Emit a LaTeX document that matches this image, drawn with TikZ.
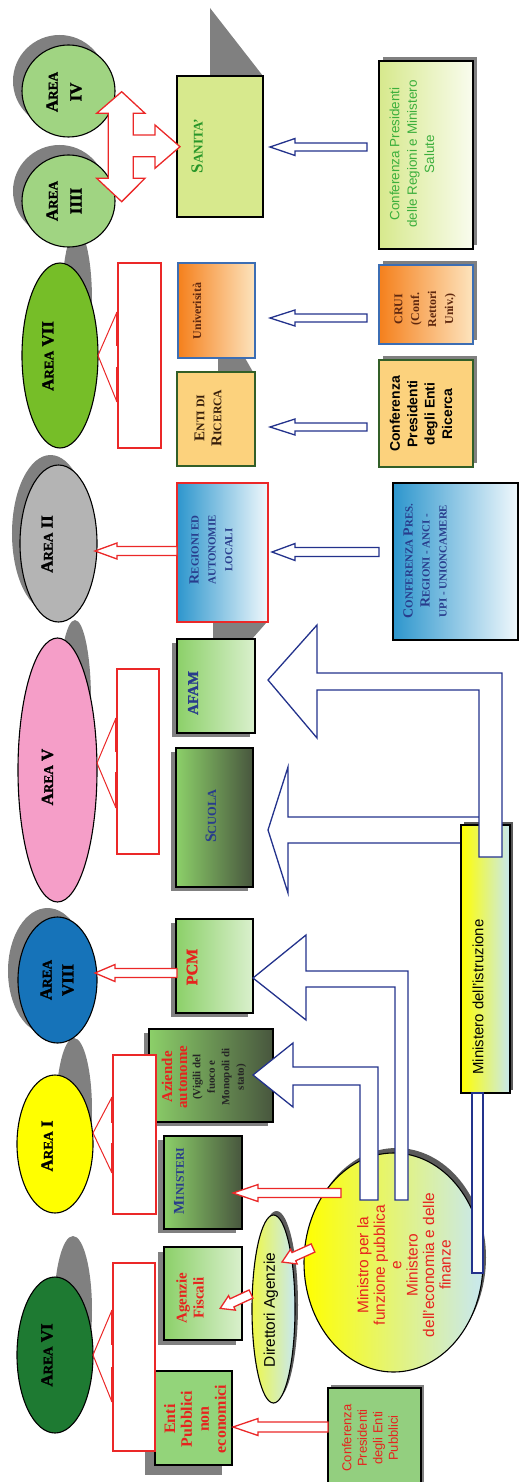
\documentclass[tikz,border=0pt]{standalone}
\usepackage{fontspec}
\usepackage{graphicx}
\setmainfont{Liberation Serif}
\setsansfont{Liberation Sans}
\newfontface\heavyserif[RawFeature={embolden=1.6}]{Liberation Serif Bold}
\usetikzlibrary{shapes.geometric}

\definecolor{shadowgray}{RGB}{128,128,128}
\definecolor{arrblue}{RGB}{35,50,140}
\definecolor{arrred}{RGB}{235,40,40}
\definecolor{circgreen}{RGB}{160,212,130}
\definecolor{sanitaC}{RGB}{215,233,141}
\definecolor{sevengreen}{RGB}{118,190,40}
\definecolor{orangeC}{RGB}{245,128,28}
\definecolor{orangeL}{RGB}{253,228,190}
\definecolor{univblue}{RGB}{60,110,180}
\definecolor{entiC}{RGB}{252,210,125}
\definecolor{darkgreen}{RGB}{50,95,40}
\definecolor{twogray}{RGB}{180,180,180}
\definecolor{blueC}{RGB}{45,150,205}
\definecolor{blueL}{RGB}{240,248,252}
\definecolor{pinkC}{RGB}{245,158,200}
\definecolor{boxG}{RGB}{140,208,105}
\definecolor{boxL}{RGB}{218,240,205}
\definecolor{boxD}{RGB}{72,86,62}
\definecolor{eightblue}{RGB}{22,115,185}
\definecolor{sixgreen}{RGB}{30,122,50}
\definecolor{entipubC}{RGB}{147,212,122}
\definecolor{confpubC}{RGB}{147,207,127}
\definecolor{ltblue}{RGB}{200,232,240}
\definecolor{yel}{RGB}{255,255,0}
\definecolor{dblue}{RGB}{40,60,140}
\definecolor{redtxt}{RGB}{230,35,30}
\definecolor{greentxt}{RGB}{60,175,60}
\definecolor{sangreen}{RGB}{40,150,40}
\definecolor{maroonT}{RGB}{95,40,15}
\definecolor{brownT}{RGB}{55,30,10}

\newcommand\sm[1]{\scalebox{0.78}{#1}}
\newcommand\AR{A\sm{REA}}
% name x1 y1 x2 y2 style shadowdx shadowdy
\newcommand\bx[8]{%
  \fill[shadowgray] ({#2+#7},{#3+#8}) rectangle ({#4+#7},{#5+#8});
  \node[draw=black, line width=1.1bp, inner sep=0pt, outer sep=0pt,
        minimum width={(#4-#2)*1bp}, minimum height={(#5-#3)*1bp}, #6]
        (#1) at ({(#2+#4)/2},{(#3+#5)/2}) {};}
% name cx cy rx ry style
\newcommand\el[6]{%
  \node[ellipse, draw=black, line width=1.1bp, inner sep=0pt, outer sep=0pt,
        minimum width={2*#4*1bp}, minimum height={2*#5*1bp}, #6] (#1) at (#2,#3) {};}
% tailx taily angle length shafthalf headhalf headlen style
\newcommand\barrow[8]{%
  \begin{scope}[shift={(#1,#2)}, rotate=#3]
  \draw[#8] (0,{-#5}) -- ({#4-#7},{-#5}) -- ({#4-#7},{-#6}) -- (#4,0)
     -- ({#4-#7},{#6}) -- ({#4-#7},{#5}) -- (0,{#5}) -- cycle;
  \end{scope}}

\begin{document}
\begin{tikzpicture}[x=1bp,y=-1bp,
  bluearr/.style={draw=arrblue, line width=1.3bp, fill=white, line join=miter},
  redarr/.style={draw=arrred, line width=1.3bp, fill=white, line join=miter},
  brk/.style={draw=arrred, line width=1.2bp},
  areatxt/.style={rotate=90, align=center, font=\heavyserif\fontsize{17}{24}\selectfont},
  rtxt/.style={rotate=90, align=center}]
\useasboundingbox (0,0) rectangle (519,1482);

% ---------- shadows ----------
\fill[shadowgray] (59.5,81) ellipse [x radius=46.5bp, y radius=46bp];
\fill[shadowgray] (59.5,191) ellipse [x radius=46.5bp, y radius=46bp];
\fill[shadowgray] (77,300) ellipse [x radius=15bp, y radius=70bp];
\fill[shadowgray] (50.5,533.5) ellipse [x radius=38.5bp, y radius=78.5bp];
\fill[shadowgray] (75,700) ellipse [x radius=16bp, y radius=80bp];
\fill[shadowgray] (47.5,971) ellipse [x radius=39.5bp, y radius=63bp];
\fill[shadowgray] (74,1110) ellipse [x radius=18bp, y radius=72bp];
\fill[shadowgray] (73,1310) ellipse [x radius=19bp, y radius=74bp];
\fill[shadowgray] (210,8) -- (210,76) -- (263,76) -- cycle;
\fill[shadowgray] (218,358) -- (245,358) -- (253,372) -- (218,372) -- cycle;
\fill[shadowgray] (213,622) -- (267,622) -- (252,639) -- (213,639) -- cycle;
\fill[shadowgray!70!black] (396.5,1257.5) ellipse [x radius=89.5bp, y radius=109.5bp];
\fill[shadowgray!70!black] (276.5,1305) ellipse [x radius=21.5bp, y radius=94bp];

% ---------- area ellipses ----------
\el{a4}{68.5}{91}{46.5}{46}{fill=circgreen}
\el{a3}{68.5}{201}{46.5}{46}{fill=circgreen}
\el{a7}{60}{355.5}{38}{92.5}{fill=sevengreen}
\el{a2}{58.5}{543.5}{38.5}{78.5}{fill=twogray}
\el{a5}{57.5}{770}{39.5}{132}{fill=pinkC}
\el{a8}{57.5}{980}{39.5}{63}{fill=eightblue}
\el{a1}{55}{1144}{38}{69}{fill=yel}
\el{a6}{55}{1355}{38}{78}{fill=sixgreen}
\el{ministro}{393.5}{1262.5}{89.5}{109.5}{left color=yel, right color=ltblue}
\el{direttori}{273.5}{1309}{21.5}{94}{left color=yel!70!ltblue, right color=ltblue}

% ---------- boxes ----------
\bx{sanita}{177}{76}{263}{217}{fill=sanitaC}{0}{0}
\bx{confsal}{379}{61}{473}{249}{left color=sanitaC, right color=sanitaC!15}{4}{-4}
\bx{univ}{178}{263}{255}{358}{draw=univblue, left color=orangeC, right color=orangeL}{0}{0}
\bx{crui}{379}{265}{473}{344}{draw=univblue, left color=orangeC, right color=orangeL}{4}{-4}
\bx{entiric}{177}{372}{255}{466}{draw=darkgreen, fill=entiC}{0}{0}
\bx{confric}{379}{360}{473}{467}{draw=darkgreen, fill=entiC}{4}{-4}
\bx{regioni}{177}{483}{268}{622}{draw=arrred, left color=blueC, right color=blueL}{0}{0}
\bx{confreg}{393}{483}{518}{640}{left color=blueC, right color=blueL}{0}{0}
\bx{afam}{177}{639}{255}{733}{left color=boxG, right color=boxL}{-5}{4}
\bx{scuola}{176}{748}{253}{887}{left color=boxG, right color=boxD}{-5}{4}
\bx{pcm}{176}{919}{253}{1013}{left color=boxG, right color=boxL}{-5}{4}
\bx{aziende}{149}{1029}{273}{1122}{left color=boxG, right color=boxD}{-5}{4}
\bx{ministeri}{164}{1136}{242}{1229}{left color=boxG, right color=boxD}{-6}{4}
\bx{agenzie}{164}{1247}{242}{1340}{left color=boxG, right color=boxL}{-6}{5}
\bx{entipub}{155}{1371}{232}{1465}{fill=entipubC}{-10}{10}
\bx{confpub}{328}{1388}{421}{1492}{fill=confpubC}{3}{-3}

% ---------- brackets ----------
\draw[brk, fill=white] (118,263) rectangle (161,448);
\draw[draw=arrred, line width=2.6bp] (117,312) -- (117,346) (117,367) -- (117,402);
\draw[draw=arrred, line width=1bp] (117,312) -- (a7.east) -- (117,402);
\draw[brk, fill=white] (117,669) rectangle (159,854);
\draw[draw=arrred, line width=2.6bp] (116,718) -- (116,752) (116,772) -- (116,808);
\draw[draw=arrred, line width=1bp] (116,718) -- (97,763) -- (116,808);
\draw[brk, fill=white] (113,1055) rectangle (156,1214);
\draw[draw=arrred, line width=2.6bp] (112,1097) -- (112,1123) (112,1143) -- (112,1173);
\draw[draw=arrred, line width=1bp] (112,1097) -- (93,1133) -- (112,1173);
\draw[brk, fill=white] (113,1263) rectangle (155,1451);
\draw[draw=arrred, line width=2.6bp] (112,1310) -- (112,1345) (112,1367) -- (112,1402);
\draw[draw=arrred, line width=1bp] (112,1310) -- (a6.east) -- (112,1402);

% ---------- big blue arrows ----------
\draw[bluearr] (268,830) -- (288,767) -- (288,817) -- (485,817) -- (485,843)
   -- (288,843) -- (288,893) -- cycle;
\fill[shadowgray!70!black] (464,822) rectangle (513,1090);
\bx{minist}{461}{825}{510}{1093}{left color=yel, right color=ltblue}{0}{0}
\draw[bluearr] (268,680) -- (317,625) -- (317,673) -- (502,673) -- (502,857)
   -- (479,857) -- (479,690) -- (317,690) -- (317,738) -- cycle;
\draw[bluearr] (253,978) -- (306,935) -- (306,971) -- (408,971) -- (408,1200)
   -- (395,1200) -- (395,987) -- (306,987) -- (306,1020) -- cycle;
\draw[bluearr] (253,1075) -- (293,1043) -- (293,1067) -- (378,1067) -- (378,1200)
   -- (360,1200) -- (360,1085) -- (293,1085) -- (293,1107) -- cycle;
\draw[bluearr] (472,1093) rectangle (483,1273);

% ---------- small blue arrows ----------
\barrow{367}{147}{180}{97}{4}{8.5}{25}{bluearr}
\barrow{367}{318}{180}{97}{4}{8}{25}{bluearr}
\barrow{367}{427}{180}{97}{4}{8}{25}{bluearr}
\barrow{379}{552}{180}{107}{4.5}{8.5}{23}{bluearr}

% ---------- red arrows ----------
\barrow{177}{551}{180}{82}{4.5}{8}{22}{redarr}
\barrow{177}{973}{180}{82}{4.5}{8.5}{20}{redarr}
\barrow{341}{1193}{180}{108}{4.5}{8.5}{25}{redarr}
\barrow{328}{1427}{180}{95}{5}{8.5}{25}{redarr}
\barrow{313}{1248}{204.3}{34}{4.5}{8}{13}{redarr}
\barrow{251}{1294}{205}{34}{4.5}{8}{13}{redarr}
\draw[redarr] (121.7,91.7) -- (145,113.3) -- (133.3,113.3) -- (133.3,135) -- (155,135)
   -- (155,125) -- (180,146.7) -- (155,168.3) -- (155,156.7) -- (133.3,156.7)
   -- (133.3,178.3) -- (145,178.3) -- (121.7,201.7) -- (96.7,178.3) -- (108.3,178.3)
   -- (108.3,113.3) -- (96.7,113.3) -- cycle;

% ---------- texts ----------
\node[areatxt] (a4-t) at (64,92) {\AR\\IV};
\node[areatxt] (a3-t) at (64,201) {\AR\\IIII};
\node[areatxt] (a7-t) at (48,356) {\AR\ VII};
\node[areatxt] (a2-t) at (47,544) {\AR\ II};
\node[areatxt] (a5-t) at (47.5,777) {\AR\ V};
\node[areatxt, font=\heavyserif\fontsize{17}{22}\selectfont] (a8-t) at (57,980) {\AR\\VIII};
\node[areatxt] (a1-t) at (47,1146) {\AR\ I};
\node[areatxt] (a6-t) at (47,1355) {\AR\ VI};

\node[rtxt, font=\bfseries\fontsize{17}{17}\selectfont, text=sangreen] (sanita-t) at (197,146) {S\sm{ANITA'}};
\node[rtxt, font=\sffamily\fontsize{13.5}{17.5}\selectfont, text=greentxt] (confsal-t) at (412,154)
  {Conferenza Presidenti\\delle Regioni e Ministero\\Salute};
\node[rtxt, font=\bfseries\fontsize{12}{14}\selectfont, text=maroonT] (univ-t) at (197,311) {Univerisità};
\node[rtxt, font=\bfseries\fontsize{12}{17}\selectfont, text=maroonT] (crui-t) at (425,309)
  {CRUI\\(Conf.\\Rettori\\Univ.)};
\node[rtxt, font=\bfseries\fontsize{15}{17}\selectfont, text=brownT] (entiric-t) at (208,418)
  {E\sm{NTI DI}\\R\sm{ICERCA}};
\node[rtxt, font=\sffamily\bfseries\fontsize{14}{17.5}\selectfont, text=black] (confric-t) at (421,414)
  {Conferenza\\Presidenti\\degli Enti\\Ricerca};
\node[rtxt, font=\bfseries\fontsize{14}{17}\selectfont, text=dblue] (regioni-t) at (211,550)
  {R\sm{EGIONI ED}\\\sm{AUTONOMIE}\\\sm{LOCALI}};
\node[rtxt, font=\bfseries\fontsize{14}{17}\selectfont, text=dblue] (confreg-t) at (425,561)
  {C\sm{ONFERENZA} P\sm{RES.}\\R\sm{EGIONI - ANCI -}\\\sm{UPI - UNIONCAMERE}};
\node[rtxt, font=\heavyserif\fontsize{15}{17}\selectfont, text=dblue] (afam-t) at (193,693) {AFAM};
\node[rtxt, font=\bfseries\fontsize{16}{17}\selectfont, text=dblue] (scuola-t) at (211,816) {S\sm{CUOLA}};
\node[rtxt, font=\heavyserif\fontsize{16}{17}\selectfont, text=redtxt] (pcm-t) at (192,967) {PCM};
\node[rtxt, font=\bfseries\fontsize{15}{15}\selectfont, text=redtxt] (aziende-t1) at (174.5,1077)
  {Aziende\\autonome};
\node[rtxt, font=\bfseries\fontsize{11}{14.5}\selectfont, text=black!85] (aziende-t2) at (219.5,1077)
  {(Vigili del\\fuoco e\\Monopoli di\\stato)};
\node[rtxt, font=\bfseries\fontsize{15}{17}\selectfont, text=dblue] (ministeri-t) at (179,1181) {M\sm{INISTERI}};
\node[rtxt, font=\bfseries\fontsize{15}{17}\selectfont, text=redtxt] (agenzie-t) at (190,1298)
  {Agenzie\\Fiscali};
\node[rtxt, font=\bfseries\fontsize{16}{17}\selectfont, text=redtxt] (entipub-t) at (195,1419)
  {Enti\\Pubblici\\non\\economici};
\node[rtxt, font=\sffamily\fontsize{13}{15.5}\selectfont, text=redtxt] (confpub-t) at (370,1438)
  {Conferenza\\Presidenti\\degli Enti\\Pubblici};
\node[rtxt, font=\sffamily\fontsize{15.5}{16.5}\selectfont, text=redtxt] (ministro-t) at (404,1265)
  {Ministro per la\\funzione pubblica\\e\\Ministero\\dell'economia e delle\\finanze};
\node[rtxt, font=\sffamily\fontsize{15.5}{17}\selectfont, text=black] (direttori-t) at (271,1310) {Direttori Agenzie};
\node[rtxt, font=\sffamily\fontsize{15}{17}\selectfont, text=black] (minist-t) at (478,997) {Ministero dell'istruzione};
\end{tikzpicture}
\end{document}
